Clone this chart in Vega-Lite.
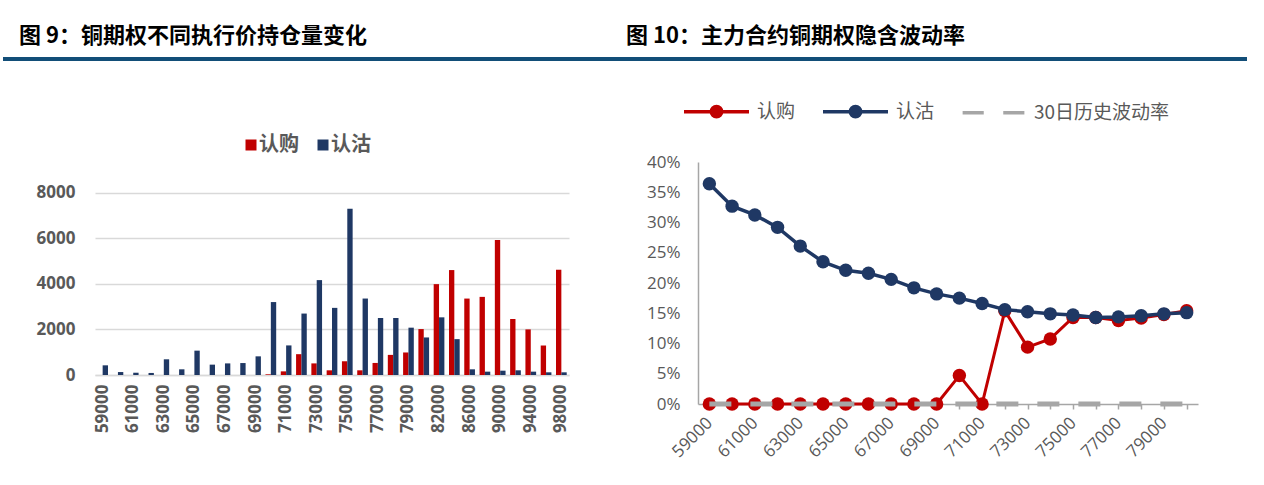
{
  "$schema": "https://vega.github.io/schema/vega-lite/v6.json",
  "padding": {"left": 3, "top": 25, "right": 5, "bottom": 0},
  "config": {"view": {"stroke": null}, "font": "Noto Sans CJK SC"},
  "datasets": {
    "barLeft": [{"a": -0.17358, "b": 1}],
    "barRight": [{"a": 0, "b": 1}],
    "oi": [
      {"strike": "59000", "type": "认购", "value": 0}, {"strike": "59000", "type": "认沽", "value": 425},
      {"strike": "60000", "type": "认购", "value": 0}, {"strike": "60000", "type": "认沽", "value": 130},
      {"strike": "61000", "type": "认购", "value": 0}, {"strike": "61000", "type": "认沽", "value": 100},
      {"strike": "62000", "type": "认购", "value": 0}, {"strike": "62000", "type": "认沽", "value": 90},
      {"strike": "63000", "type": "认购", "value": 0}, {"strike": "63000", "type": "认沽", "value": 690},
      {"strike": "64000", "type": "认购", "value": 0}, {"strike": "64000", "type": "认沽", "value": 250},
      {"strike": "65000", "type": "认购", "value": 0}, {"strike": "65000", "type": "认沽", "value": 1070},
      {"strike": "66000", "type": "认购", "value": 0}, {"strike": "66000", "type": "认沽", "value": 455},
      {"strike": "67000", "type": "认购", "value": 0}, {"strike": "67000", "type": "认沽", "value": 510},
      {"strike": "68000", "type": "认购", "value": 0}, {"strike": "68000", "type": "认沽", "value": 525},
      {"strike": "69000", "type": "认购", "value": 0}, {"strike": "69000", "type": "认沽", "value": 820},
      {"strike": "70000", "type": "认购", "value": 30}, {"strike": "70000", "type": "认沽", "value": 3205},
      {"strike": "71000", "type": "认购", "value": 160}, {"strike": "71000", "type": "认沽", "value": 1300},
      {"strike": "72000", "type": "认购", "value": 915}, {"strike": "72000", "type": "认沽", "value": 2700},
      {"strike": "73000", "type": "认购", "value": 510}, {"strike": "73000", "type": "认沽", "value": 4170},
      {"strike": "74000", "type": "认购", "value": 206}, {"strike": "74000", "type": "认沽", "value": 2950},
      {"strike": "75000", "type": "认购", "value": 604}, {"strike": "75000", "type": "认沽", "value": 7310},
      {"strike": "76000", "type": "认购", "value": 206}, {"strike": "76000", "type": "认沽", "value": 3360},
      {"strike": "77000", "type": "认购", "value": 530}, {"strike": "77000", "type": "认沽", "value": 2505},
      {"strike": "78000", "type": "认购", "value": 884}, {"strike": "78000", "type": "认沽", "value": 2505},
      {"strike": "79000", "type": "认购", "value": 990}, {"strike": "79000", "type": "认沽", "value": 2080},
      {"strike": "80000", "type": "认购", "value": 2018}, {"strike": "80000", "type": "认沽", "value": 1650},
      {"strike": "82000", "type": "认购", "value": 3993}, {"strike": "82000", "type": "认沽", "value": 2534},
      {"strike": "84000", "type": "认购", "value": 4611}, {"strike": "84000", "type": "认沽", "value": 1576},
      {"strike": "86000", "type": "认购", "value": 3359}, {"strike": "86000", "type": "认沽", "value": 250},
      {"strike": "88000", "type": "认购", "value": 3433}, {"strike": "88000", "type": "认沽", "value": 147},
      {"strike": "90000", "type": "认购", "value": 5937}, {"strike": "90000", "type": "认沽", "value": 190},
      {"strike": "92000", "type": "认购", "value": 2460}, {"strike": "92000", "type": "认沽", "value": 206},
      {"strike": "94000", "type": "认购", "value": 2004}, {"strike": "94000", "type": "认沽", "value": 147},
      {"strike": "96000", "type": "认购", "value": 1296}, {"strike": "96000", "type": "认沽", "value": 118},
      {"strike": "98000", "type": "认购", "value": 4626}, {"strike": "98000", "type": "认沽", "value": 118}
    ],
    "iv": [
      {"strike": "59000", "series": "认购", "value": 0}, {"strike": "60000", "series": "认购", "value": 0},
      {"strike": "61000", "series": "认购", "value": 0}, {"strike": "62000", "series": "认购", "value": 0},
      {"strike": "63000", "series": "认购", "value": 0}, {"strike": "64000", "series": "认购", "value": 0},
      {"strike": "65000", "series": "认购", "value": 0}, {"strike": "66000", "series": "认购", "value": 0},
      {"strike": "67000", "series": "认购", "value": 0}, {"strike": "68000", "series": "认购", "value": 0},
      {"strike": "69000", "series": "认购", "value": 0}, {"strike": "70000", "series": "认购", "value": 0.047},
      {"strike": "71000", "series": "认购", "value": 0}, {"strike": "72000", "series": "认购", "value": 0.154},
      {"strike": "73000", "series": "认购", "value": 0.094}, {"strike": "74000", "series": "认购", "value": 0.1075},
      {"strike": "75000", "series": "认购", "value": 0.143}, {"strike": "76000", "series": "认购", "value": 0.143},
      {"strike": "77000", "series": "认购", "value": 0.138}, {"strike": "78000", "series": "认购", "value": 0.142},
      {"strike": "79000", "series": "认购", "value": 0.148}, {"strike": "80000", "series": "认购", "value": 0.154},
      {"strike": "59000", "series": "认沽", "value": 0.364}, {"strike": "60000", "series": "认沽", "value": 0.327},
      {"strike": "61000", "series": "认沽", "value": 0.3125}, {"strike": "62000", "series": "认沽", "value": 0.292},
      {"strike": "63000", "series": "认沽", "value": 0.261}, {"strike": "64000", "series": "认沽", "value": 0.235},
      {"strike": "65000", "series": "认沽", "value": 0.221}, {"strike": "66000", "series": "认沽", "value": 0.216},
      {"strike": "67000", "series": "认沽", "value": 0.206}, {"strike": "68000", "series": "认沽", "value": 0.192},
      {"strike": "69000", "series": "认沽", "value": 0.182}, {"strike": "70000", "series": "认沽", "value": 0.175},
      {"strike": "71000", "series": "认沽", "value": 0.166}, {"strike": "72000", "series": "认沽", "value": 0.156},
      {"strike": "73000", "series": "认沽", "value": 0.1525}, {"strike": "74000", "series": "认沽", "value": 0.149},
      {"strike": "75000", "series": "认沽", "value": 0.147}, {"strike": "76000", "series": "认沽", "value": 0.143},
      {"strike": "77000", "series": "认沽", "value": 0.144}, {"strike": "78000", "series": "认沽", "value": 0.146},
      {"strike": "79000", "series": "认沽", "value": 0.149}, {"strike": "80000", "series": "认沽", "value": 0.151},
      {"strike": "59000", "series": "30日历史波动率", "value": 0}, {"strike": "60000", "series": "30日历史波动率", "value": 0},
      {"strike": "61000", "series": "30日历史波动率", "value": 0}, {"strike": "62000", "series": "30日历史波动率", "value": 0},
      {"strike": "63000", "series": "30日历史波动率", "value": 0}, {"strike": "64000", "series": "30日历史波动率", "value": 0},
      {"strike": "65000", "series": "30日历史波动率", "value": 0}, {"strike": "66000", "series": "30日历史波动率", "value": 0},
      {"strike": "67000", "series": "30日历史波动率", "value": 0}, {"strike": "68000", "series": "30日历史波动率", "value": 0},
      {"strike": "69000", "series": "30日历史波动率", "value": 0}, {"strike": "70000", "series": "30日历史波动率", "value": 0},
      {"strike": "71000", "series": "30日历史波动率", "value": 0}, {"strike": "72000", "series": "30日历史波动率", "value": 0},
      {"strike": "73000", "series": "30日历史波动率", "value": 0}, {"strike": "74000", "series": "30日历史波动率", "value": 0},
      {"strike": "75000", "series": "30日历史波动率", "value": 0}, {"strike": "76000", "series": "30日历史波动率", "value": 0},
      {"strike": "77000", "series": "30日历史波动率", "value": 0}, {"strike": "78000", "series": "30日历史波动率", "value": 0},
      {"strike": "79000", "series": "30日历史波动率", "value": 0}, {"strike": "80000", "series": "30日历史波动率", "value": 0}
    ]
  },
  "spacing": 6,
  "resolve": {"scale": {"color": "independent", "fill": "independent", "stroke": "independent", "shape": "independent"}, "legend": {"color": "independent", "fill": "independent", "stroke": "independent", "shape": "independent"}},
  "vconcat": [
    {
      "spacing": 0,
      "hconcat": [
        {
          "width": 530, "height": 4,
          "title": {"text": "图 9：铜期权不同执行价持仓量变化", "anchor": "start", "dx": 16, "dy": 23, "fontSize": 22, "fontWeight": "bold", "color": "#000000", "font": "Noto Sans CJK SC", "offset": 10, "baseline": "bottom"},
          "data": {"name": "barLeft"},
          "mark": {"type": "rect", "color": "#124e78"},
          "encoding": {
            "x": {"field": "a", "type": "quantitative", "scale": {"domain": [0, 1], "nice": false, "zero": false, "clamp": false}, "axis": null},
            "x2": {"field": "b"},
            "y": {"field": "b", "type": "quantitative", "scale": {"domain": [0, 1], "nice": false}, "axis": null},
            "y2": {"datum": 0}
          }
        },
        {
          "width": 622, "height": 4,
          "title": {"text": "图 10：主力合约铜期权隐含波动率", "anchor": "start", "dx": 1, "dy": 23, "fontSize": 22, "fontWeight": "bold", "color": "#000000", "font": "Noto Sans CJK SC", "offset": 10, "baseline": "bottom"},
          "data": {"name": "barRight"},
          "mark": {"type": "rect", "color": "#124e78"},
          "encoding": {
            "x": {"field": "a", "type": "quantitative", "scale": {"domain": [0, 1], "nice": false}, "axis": null},
            "x2": {"field": "b"},
            "y": {"field": "a", "type": "quantitative", "scale": {"domain": [0, 1], "nice": false}, "axis": null},
            "y2": {"field": "b"}
          }
        }
      ]
    },
    {
      "spacing": 59,
      "resolve": {"scale": {"color": "independent", "fill": "independent", "stroke": "independent", "shape": "independent"}, "legend": {"color": "independent", "fill": "independent", "stroke": "independent", "shape": "independent"}},
      "hconcat": [
        {
          "width": 474, "height": 213,
          "data": {"name": "oi"},
          "mark": {"type": "bar"},
          "encoding": {
            "x": {"field": "strike", "type": "nominal", "sort": null,
              "scale": {"paddingInner": 0.3, "paddingOuter": 0.15},
              "axis": {"title": null, "values": ["59000","61000","63000","65000","67000","69000","71000","73000","75000","77000","79000","82000","86000","90000","94000","98000"],
                "labelAngle": -90, "labelAlign": "right", "labelBaseline": "middle", "labelPadding": 9,
                "labelFont": "Open Sans", "labelFontSize": 17, "labelFontWeight": "bold", "labelColor": "#595959",
                "ticks": false, "domainColor": "#d9d9d9", "domainWidth": 1.5}},
            "xOffset": {"field": "type", "type": "nominal", "sort": ["认购", "认沽"], "scale": {"paddingInner": 0, "paddingOuter": 0}},
            "y": {"field": "value", "type": "quantitative",
              "scale": {"domain": [0, 9360], "nice": false},
              "axis": {"title": " ", "titleX": -92, "titleY": -95, "titleAngle": 0, "titleAlign": "left", "titleBaseline": "top", "titleFontSize": 10,
                "values": [0, 2000, 4000, 6000, 8000], "format": "d", "grid": true, "gridColor": "#d9d9d9", "gridWidth": 1.5,
                "domain": false, "ticks": false, "labelPadding": 20,
                "labelFont": "Open Sans", "labelFontSize": 17, "labelFontWeight": "bold", "labelColor": "#595959"}},
            "color": {"field": "type", "type": "nominal",
              "scale": {"domain": ["认购", "认沽"], "range": ["#c00000", "#1f3864"]},
              "legend": {"orient": "none", "legendX": 146, "legendY": -27, "direction": "horizontal", "title": null,
                "symbolType": "square", "symbolSize": 121, "symbolStrokeWidth": 0, "symbolOpacity": 1,
                "labelFont": "Noto Sans CJK SC", "labelFontSize": 20, "labelFontWeight": "bold", "labelColor": "#595959",
                "labelOffset": -2, "columnPadding": 14, "padding": 0}}
          }
        },
        {
          "width": 500, "height": 242,
          "data": {"name": "iv"},
          "encoding": {
            "x": {"field": "strike", "type": "ordinal", "sort": null,
              "scale": {"type": "point", "padding": 0.5},
              "axis": {"title": null,
                "labelExpr": "indexof(['59000','61000','63000','65000','67000','69000','71000','73000','75000','77000','79000'], datum.value) >= 0 ? datum.label : ''",
                "labelAngle": -45, "labelAlign": "right", "labelBaseline": "middle", "labelPadding": 11,
                "labelFont": "Open Sans", "labelFontSize": 17, "labelColor": "#595959",
                "domainColor": "#a6a6a6", "domainWidth": 1.5, "tickColor": "#a6a6a6", "tickSize": 5, "tickWidth": 1.5}},
            "y": {"field": "value", "type": "quantitative",
              "scale": {"domain": [0, 0.4], "nice": false},
              "axis": {"title": " ", "titleX": -70, "titleY": -95, "titleAngle": 0, "titleAlign": "left", "titleBaseline": "top", "titleFontSize": 10,
                "format": ".0%", "values": [0, 0.05, 0.1, 0.15, 0.2, 0.25, 0.3, 0.35, 0.4],
                "grid": false, "ticks": false, "domainColor": "#a6a6a6", "domainWidth": 1.5, "labelPadding": 18,
                "labelFont": "Open Sans", "labelFontSize": 17, "labelColor": "#595959"}}
          },
          "layer": [
            {"transform": [{"filter": "datum.series === '认购'"}], "mark": {"type": "line", "strokeWidth": 3},
             "encoding": {"color": {"field": "series", "type": "nominal", "scale": {"domain": ["认购", "认沽", "30日历史波动率"], "range": ["#c00000", "#1f3864", "#a6a6a6"]}, "legend": null}}},
            {"transform": [{"filter": "datum.series === '认购'"}], "mark": {"type": "point", "filled": true, "size": 180, "opacity": 1},
             "encoding": {"color": {"field": "series", "type": "nominal", "legend": null}}},
            {"transform": [{"filter": "datum.series === '认沽'"}], "mark": {"type": "line", "strokeWidth": 3.5},
             "encoding": {"color": {"field": "series", "type": "nominal", "legend": null}}},
            {"transform": [{"filter": "datum.series === '认沽'"}], "mark": {"type": "point", "filled": true, "size": 180, "opacity": 1},
             "encoding": {"color": {"field": "series", "type": "nominal", "legend": null}}},
            {"transform": [{"filter": "datum.series === '30日历史波动率'"}], "mark": {"type": "line", "strokeWidth": 5, "strokeDash": [22, 19]},
             "encoding": {"color": {"field": "series", "type": "nominal", "legend": null}}},
            {"mark": {"type": "point", "filled": true, "opacity": 0},
             "encoding": {
               "fill": {"field": "series", "type": "nominal", "sort": null,
                 "scale": {"range": ["#c00000", "#1f3864", "#a6a6a6"]},
                 "legend": {"orient": "none", "legendX": -16, "legendY": -85, "direction": "horizontal", "title": null,
                   "symbolSize": 4225, "symbolStrokeWidth": 3.5, "symbolOpacity": 1,
                   "labelFont": "Noto Sans CJK SC", "labelFontSize": 19, "labelColor": "#595959",
                   "labelOffset": 6, "columnPadding": 20, "padding": 0}},
               "stroke": {"field": "series", "type": "nominal", "sort": null,
                 "scale": {"range": ["#c00000", "#1f3864", "#a6a6a6"]},
                 "legend": {"orient": "none", "legendX": -16, "legendY": -85, "direction": "horizontal", "title": null,
                   "symbolSize": 4225, "symbolStrokeWidth": 3.5, "symbolOpacity": 1,
                   "labelFont": "Noto Sans CJK SC", "labelFontSize": 19, "labelColor": "#595959",
                   "labelOffset": 6, "columnPadding": 20, "padding": 0}},
               "shape": {"field": "series", "type": "nominal", "sort": null,
                 "scale": {"range": ["M-1,0H1M0.16,0A0.16,0.16,0,1,1,-0.16,0A0.16,0.16,0,1,1,0.16,0Z", "M-1,0H1M0.16,0A0.16,0.16,0,1,1,-0.16,0A0.16,0.16,0,1,1,0.16,0Z", "M-0.95,0H-0.3M0.3,0H0.95"]},
                 "legend": {"orient": "none", "legendX": -16, "legendY": -85, "direction": "horizontal", "title": null,
                   "symbolSize": 4225, "symbolStrokeWidth": 3.5, "symbolOpacity": 1,
                   "labelFont": "Noto Sans CJK SC", "labelFontSize": 19, "labelColor": "#595959",
                   "labelOffset": 6, "columnPadding": 20, "padding": 0}}
             }}
          ]
        }
      ]
    }
  ]
}
